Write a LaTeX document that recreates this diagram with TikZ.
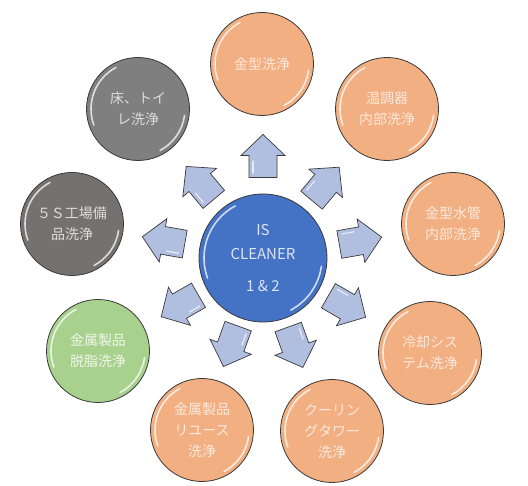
\documentclass[tikz,border=0pt]{standalone}
\usepackage{fontspec}
\setmainfont{Noto Sans CJK JP}
\definecolor{borange}{HTML}{F2AF82}
\definecolor{bblue}{HTML}{4472C4}
\definecolor{bgreen}{HTML}{A9D18E}
\definecolor{bgray}{HTML}{7F7F7F}
\definecolor{bgraydk}{HTML}{767171}
\definecolor{barrow}{HTML}{B0BEE0}
\definecolor{edgegray}{HTML}{3A3A3A}
\definecolor{txorange}{HTML}{FBE9DD}
\definecolor{txgray}{HTML}{DCDCDC}
\definecolor{txgreen}{HTML}{EEF6E8}
\definecolor{txblue}{HTML}{DCE5F5}
\newcommand{\glossarc}[2]{%
  \draw[gloss] ([shift={(118:#2)}]#1.center) arc[start angle=118, end angle=200, radius=#2];
  \draw[gloss] ([shift={(-8:#2)}]#1.center) arc[start angle=-8, end angle=-62, radius=#2];}
\begin{document}
\begin{tikzpicture}[x=1pt,y=1pt,
  bubble/.style={circle, draw=edgegray, line width=0.8pt, minimum size=103pt,
    inner sep=0pt, align=center, font=\fontsize{14}{21}\selectfont},
  orangeb/.style={bubble, fill=borange, text=txorange},
  grayb/.style={bubble, fill=bgray, text=txgray},
  graydkb/.style={bubble, fill=bgraydk, text=txgray},
  greenb/.style={bubble, fill=bgreen, text=txgreen},
  hubb/.style={bubble, minimum size=128pt, fill=bblue, text=txblue,
    font=\fontsize{15}{24}\selectfont},
  gloss/.style={white, opacity=0.75, line width=1.6pt, line cap=round},
  blockarrow/.style={fill=barrow, draw=edgegray, line width=0.7pt, line join=miter}
]
\useasboundingbox (0,0) rectangle (528,486);

\node[hubb] (hub) at (263,228) {IS\\CLEANER\\[8pt]1 \& 2};

\node[orangeb]  (mold)    at (262,422) {金型洗浄};
\node[orangeb]  (temp)    at (387,377) {温調器\\内部洗浄};
\node[orangeb]  (water)   at (453,262) {金型水管\\内部洗浄};
\node[orangeb]  (cool)    at (430,133) {冷却シス\\テム洗浄};
\node[orangeb]  (tower)   at (332,55)  {クーリン\\グタワー\\洗浄};
\node[orangeb]  (reuse)   at (202,56)  {金属製品\\リユース\\洗浄};
\node[greenb]   (degrease) at (98,135) {金属製品\\脱脂洗浄};
\node[graydkb]  (fives)   at (72,262)  {５Ｓ工場備\\品洗浄};
\node[grayb]    (floor)   at (138,377) {床、トイ\\レ洗浄};

\glossarc{hub}{59}
\foreach \n in {mold,temp,water,cool,tower,reuse,degrease,fives,floor}{\glossarc{\n}{47}}

\foreach \a/\r in {90/102,50/97,10/99,-30/97,-70/95,-110/94,-150/96,170/101,130/98}{
  \draw[blockarrow, shift={(hub.center)}, shift={(\a:\r)}, rotate=\a]
    (-21.5,-14) -- (0.5,-14) -- (0.5,-22) -- (21.5,0) -- (0.5,22) -- (0.5,14) -- (-21.5,14) -- cycle;
  \draw[white, opacity=0.7, line width=1.2pt, line cap=round, shift={(hub.center)}, shift={(\a:\r)}, rotate=\a]
    (-17,10) -- (-5,10);
}
\end{tikzpicture}
\end{document}
